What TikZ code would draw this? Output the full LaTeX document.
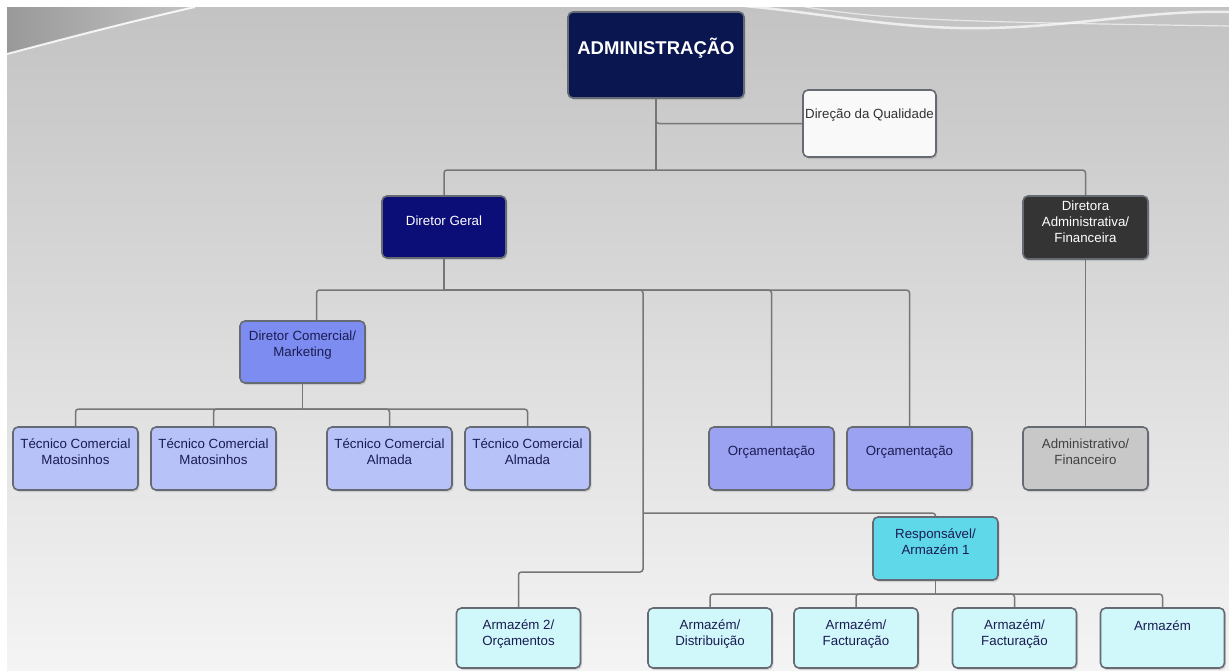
\documentclass[tikz,border=0pt]{standalone}
\usepackage{fontspec}
\setmainfont{Liberation Sans}
\usetikzlibrary{shadows}

\definecolor{bgtop}{HTML}{C3C3C3}
\definecolor{bgbot}{HTML}{F4F4F4}
\definecolor{boxline}{HTML}{666A72}
\definecolor{connc}{HTML}{767676}
\definecolor{navytext}{HTML}{1A1C52}
\definecolor{adminfill}{HTML}{0A1650}
\definecolor{qualfill}{HTML}{F9F9F9}
\definecolor{dgfill}{HTML}{0C0E78}
\definecolor{dafill}{HTML}{343434}
\definecolor{dcmfill}{HTML}{7C8CF0}
\definecolor{tecfill}{HTML}{B6C2F8}
\definecolor{orcfill}{HTML}{9CA2F2}
\definecolor{afinfill}{HTML}{C8C8C8}
\definecolor{respfill}{HTML}{5FD8EA}
\definecolor{armfill}{HTML}{D0F8FB}

\tikzset{
  orgbox/.style={draw=boxline, line width=1.6pt, rounded corners=5pt,
    minimum width=125pt, minimum height=63pt, inner sep=0pt,
    drop shadow={opacity=0.25, shadow xshift=1.5pt, shadow yshift=-2pt}},
  armbox/.style={orgbox, minimum width=124pt, minimum height=60pt, fill=armfill},
  lbl/.style={font=\fontsize{13.3}{16}\selectfont, align=center, inner sep=0pt, text=navytext},
  lblw/.style={lbl, text=white},
  conn/.style={draw=connc, line width=1.5pt, rounded corners=3pt}
}

\begin{document}
\begin{tikzpicture}[x=1pt, y=-1pt]
\useasboundingbox (0,0) rectangle (1229,670);

% slide background
\fill[white] (0,0) rectangle (1229,670);
\shade[top color=bgtop, bottom color=bgbot] (7,7) rectangle (1229,670);
\shade[left color=black!40, right color=bgtop] (7,7) -- (195,7) .. controls (120,24) and (60,40) .. (7,54) -- cycle;
\draw[white, line width=2pt, opacity=0.85] (7,54) .. controls (60,40) and (120,24) .. (195,7);
\draw[white, line width=2.5pt, opacity=0.7] (745,6) .. controls (830,14) and (900,30) .. (990,28) .. controls (1080,26) and (1150,10) .. (1229,12);
\draw[white, line width=1.2pt, opacity=0.6] (800,6) .. controls (880,20) and (960,22) .. (1229,26);

% boxes
\node[orgbox, fill=adminfill, minimum width=176pt, minimum height=86pt] (admin) at (656,55) {};
\node[font=\fontsize{18.5}{20}\selectfont\bfseries, text=white, inner sep=0pt] (admint) at (656,48) {ADMINISTRAÇÃO};

\node[orgbox, fill=qualfill, minimum width=133pt, minimum height=67pt] (qual) at (869.5,123.5) {};
\node[lbl, text=black!80] (qualt) at (869.5,115) {Direção da Qualidade};

\node[orgbox, fill=dgfill, minimum width=124pt, minimum height=62pt] (dg) at (444,227) {};
\node[lblw] (dgt) at (444,221) {Diretor Geral};

\node[orgbox, fill=dafill] (dafin) at (1085.5,227.5) {};
\node[lblw] (dafint) at (1085.5,222) {Diretora\\Administrativa/\\Financeira};

\node[orgbox, fill=dcmfill, minimum height=62pt] (dcm) at (302.5,352) {};
\node[lbl] (dcmt) at (302.5,345) {Diretor Comercial/\\Marketing};

\node[orgbox, fill=tecfill] (tc1) at (75.5,458.5) {};
\node[lbl] (tc1t) at (75.5,452) {Técnico Comercial\\Matosinhos};
\node[orgbox, fill=tecfill] (tc2) at (213.5,458.5) {};
\node[lbl] (tc2t) at (213.5,452) {Técnico Comercial\\Matosinhos};
\node[orgbox, fill=tecfill] (tc3) at (389.5,458.5) {};
\node[lbl] (tc3t) at (389.5,452) {Técnico Comercial\\Almada};
\node[orgbox, fill=tecfill] (tc4) at (527.5,458.5) {};
\node[lbl] (tc4t) at (527.5,452) {Técnico Comercial\\Almada};

\node[orgbox, fill=orcfill] (orc1) at (771.5,458.5) {};
\node[lbl] (orc1t) at (771.5,452) {Orçamentação};
\node[orgbox, fill=orcfill] (orc2) at (909.5,458.5) {};
\node[lbl] (orc2t) at (909.5,452) {Orçamentação};

\node[orgbox, fill=afinfill] (afin) at (1085.5,458.5) {};
\node[lbl, text=black!75] (afint) at (1085.5,452) {Administrativo/\\Financeiro};

\node[orgbox, fill=respfill] (resp) at (935.5,548.5) {};
\node[lbl] (respt) at (935.5,542) {Responsável/\\Armazém 1};

\node[armbox] (arm2) at (518.5,638) {};
\node[lbl] (arm2t) at (518.5,634) {Armazém 2/\\Orçamentos};
\node[armbox] (a1) at (710,638) {};
\node[lbl] (a1t) at (710,634) {Armazém/\\Distribuição};
\node[armbox] (a2) at (856,638) {};
\node[lbl] (a2t) at (856,634) {Armazém/\\Facturação};
\node[armbox] (a3) at (1014.5,638) {};
\node[lbl] (a3t) at (1014.5,634) {Armazém/\\Facturação};
\node[armbox] (a4) at (1162.5,638) {};
\node[lbl] (a4t) at (1162.5,626) {Armazém};

% junction points of the connector lines
\coordinate (bar1) at (656,170);
\coordinate (bar2) at (444,290);
\coordinate (bar3) at (302.5,409);
\coordinate (j2) at (643,513);
\coordinate (j3) at (643,572);
\coordinate (bar4) at (935.5,594);

% connectors
\draw[conn] (admin.south) -- (bar1);
\draw[conn] (admin.south) |- (qual.west);
\draw[conn] (bar1) -| (dg.north);
\draw[conn] (bar1) -| (dafin.north);
\draw[conn] (dafin.south) -- (afin.north);

\draw[conn] (dg.south) -- (bar2);
\draw[conn] (bar2) -| ([xshift=14pt]dcm.north);
\draw[conn] (bar2) -| (orc2.north);
\draw[conn] (bar2) -| (orc1.north);
\draw[conn] (bar2) -| (j2) -- (j3) -| (arm2.north);
\draw[conn] (j2) -| (resp.north);

\draw[conn] (dcm.south) -- (bar3);
\draw[conn] (bar3) -| (tc1.north);
\draw[conn] (bar3) -| (tc2.north);
\draw[conn] (bar3) -| (tc3.north);
\draw[conn] (bar3) -| (tc4.north);

\draw[conn] (resp.south) -- (bar4);
\draw[conn] (bar4) -| (a1.north);
\draw[conn] (bar4) -| (a2.north);
\draw[conn] (bar4) -| (a3.north);
\draw[conn] (bar4) -| (a4.north);
\end{tikzpicture}
\end{document}
